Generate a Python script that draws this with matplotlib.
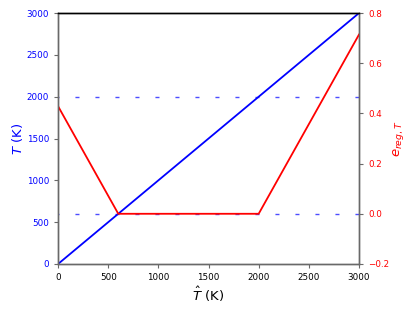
import numpy
import matplotlib
matplotlib.use('Agg')
from matplotlib import pyplot as plt

# data
T_hat = [0, 600, 2000, 3000]
T_clip = [0, 600, 2000, 3000]
e_reg = [0.4286, 0.0, 0.0, 0.7143]
T_min, T_max = 600, 2000
x_range = [0, 3000]

fig = plt.figure(figsize=(4.15, 3.12), dpi=100)
ax1 = fig.add_axes([0.14, 0.154, 0.725, 0.804])
ax2 = ax1.twinx()

# bounds, dashed
for lev in [T_min, T_max]:
	ax1.plot(x_range, [lev, lev], color='b', alpha=0.7, lw=1.0,
	         linestyle=(2.2, (2.9, 11.5)))
ax1.plot(T_hat, T_clip, color='b', lw=1.3)
ax2.plot(T_hat, e_reg, color='r', lw=1.3)

ax1.set_xlim(0, 3000)
ax1.set_ylim(0, 3000)
ax2.set_ylim(-0.2, 0.8)
ax1.set_xticks([0, 500, 1000, 1500, 2000, 2500, 3000])
ax2.set_yticks([-0.2, 0.0, 0.2, 0.4, 0.6, 0.8])

ax1.tick_params(axis='y', labelcolor='b', labelsize=6.3, color='dimgray', length=3)
ax1.tick_params(axis='x', labelsize=6.3, color='dimgray', length=3)
ax2.tick_params(axis='y', labelcolor='r', labelsize=6.3, color='dimgray', length=3)

for a in [ax1, ax2]:
	a.spines['left'].set_color('dimgray')
	a.spines['right'].set_color('dimgray')
	a.spines['bottom'].set_color('dimgray')
	a.spines['top'].set_color('black')
	for s in a.spines.values():
		s.set_linewidth(1.0)

ax1.set_ylabel('$T$ (K)', color='b', fontsize=9.5, labelpad=1)
ax2.set_ylabel('$e_{reg,T}$', color='r', fontsize=9.5, labelpad=1)
ax1.set_xlabel(r'$\hat{T}$ (K)', fontsize=9.5, labelpad=2)

plt.savefig('out.png', dpi=100)
